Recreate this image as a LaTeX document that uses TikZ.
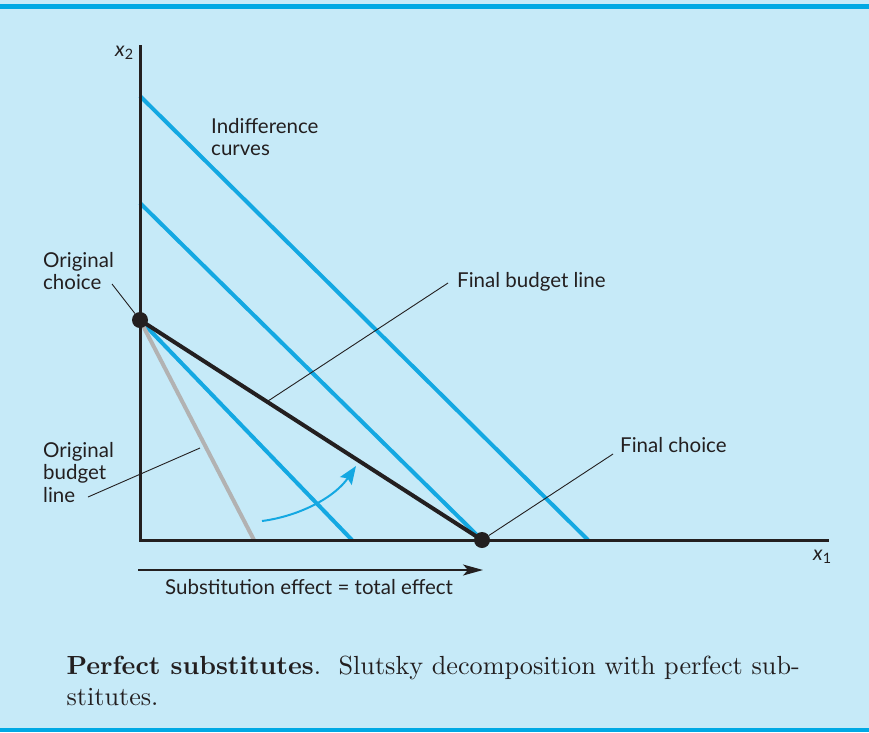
\documentclass[tikz,border=0pt]{standalone}
\usepackage{fontspec}
\setsansfont{Lato}
\usetikzlibrary{arrows.meta}
\definecolor{bgblue}{RGB}{198,234,248}
\definecolor{rulblue}{RGB}{0,169,228}
\definecolor{icblue}{RGB}{20,168,226}
\definecolor{txt}{RGB}{35,31,32}

\begin{document}
\begin{tikzpicture}[x=1pt,y=-1pt,
  axis/.style={line width=3pt,draw=txt},
  icurve/.style={line width=4pt,draw=icblue},
  budget/.style={line width=4pt,draw=txt},
  oldbudget/.style={line width=4pt,draw=black!30},
  lead/.style={line width=0.9pt,draw=txt},
  dotc/.style={circle,fill=txt,inner sep=0pt,minimum size=16pt},
  lab/.style={font=\sffamily\fontsize{20.5}{22.5}\selectfont,text=txt,inner sep=0pt,align=left}]
% panel
\fill[bgblue] (0,0) rectangle (869,732);
\useasboundingbox (0,0) rectangle (869,732);
\fill[rulblue] (0,4) rectangle (869,9);
\fill[rulblue] (0,728) rectangle (869,732);
% points of the diagram
\coordinate (O) at (140,540);
\coordinate (A) at (140,320);
\coordinate (B) at (482,540);
\coordinate (G) at (254,540);
% indifference curves
\draw[icurve] (A) -- (352,540);
\draw[icurve] (140,203) -- (B);
\draw[icurve] (140,96) -- (588,540);
% budget lines
\draw[oldbudget] (A) -- (G);
\draw[budget] (A) -- (B);
% axes
\draw[axis] (140,45) -- (O) -- (829,540);
\node[dotc] (oc) at (A) {};
\node[dotc] (fc) at (B) {};
\node[lab,anchor=base west] (xtwo) at (115,56) {\textit{x}\textsubscript{2}};
\node[lab,anchor=base west] (xone) at (813,560) {\textit{x}\textsubscript{1}};
% labels and leaders
\node[lab,anchor=north west] (iclab) at (211,118) {Indifference\\curves};
\node[lab,anchor=north west] (oclab) at (43,252) {Original\\choice};
\coordinate (oclead) at (112,284);
\draw[lead] (oclead) -- (oc);
\node[lab,anchor=base west] (fblab) at (457,287) {Final budget line};
\coordinate (fblead) at (448,283);
\coordinate (fbpt) at (268,401);
\draw[lead] (fblead) -- (fbpt);
\node[lab,anchor=north west] (oblab) at (43,442) {Original\\budget\\line};
\coordinate (oblead) at (88,497);
\coordinate (obpt) at (200,448);
\draw[lead] (oblead) -- (obpt);
\node[lab,anchor=base west] (fclab) at (620,452) {Final choice};
\coordinate (fclead) at (613,454);
\draw[lead] (fclead) -- (fc);
% pivot arrow
\coordinate (pv0) at (262,521);
\coordinate (pv1) at (356,466);
\draw[icblue,line width=2pt,-{Stealth[length=18pt,width=14pt,inset=3pt]}] (pv0) .. controls (300,516) and (335,497) .. (pv1);
% effect arrow
\coordinate (se0) at (138,570);
\coordinate (se1) at (483,570);
\draw[lead,line width=1.4pt,-{Stealth[length=20pt,width=11pt,inset=5pt]}] (se0) -- (se1);
\node[lab,anchor=base west] (selab) at (165,594) {Substitution effect = total effect};
% caption
\node[anchor=north west,inner sep=0pt,align=left,text=txt,scale=2.62,font=\fontsize{10}{12.2}\selectfont] (cap) at (66,655) {\textbf{Perfect substitutes}.\ \ Slutsky decomposition with perfect sub-\\stitutes.};
\end{tikzpicture}
\end{document}
